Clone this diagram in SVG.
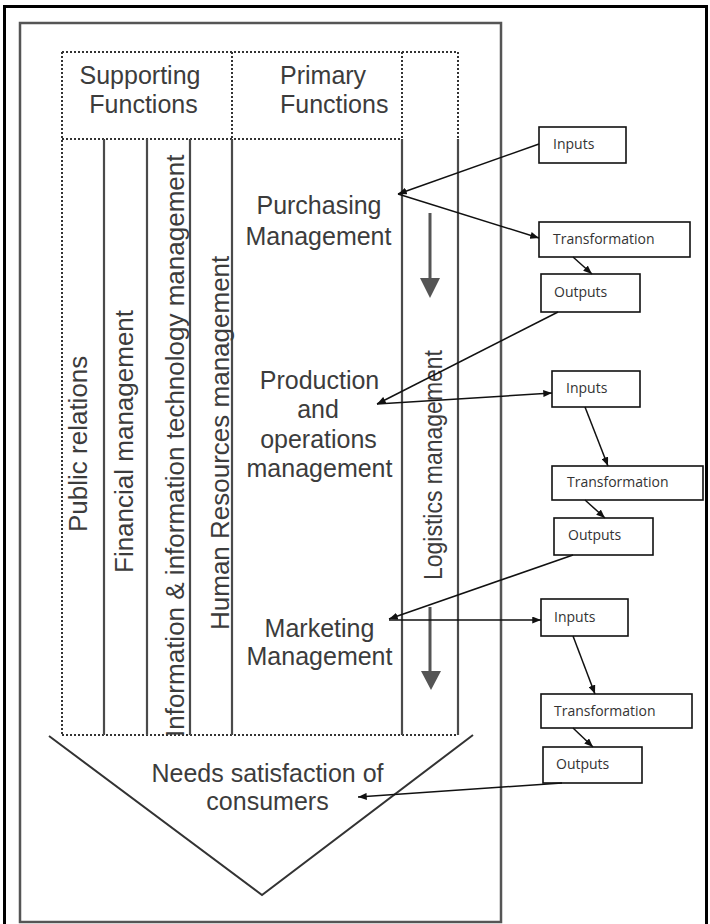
<svg xmlns="http://www.w3.org/2000/svg" width="710" height="924" viewBox="0 0 710 924">
  <style>
    .big { font-family: "Liberation Sans", Arial, sans-serif; font-size: 25px; fill: #3c3c3c; }
    .vert { font-family: "Liberation Sans", Arial, sans-serif; font-size: 26px; fill: #3c3c3c; }
    .small { font-family: "Open Sans", "Liberation Sans", sans-serif; font-size: 14px; fill: #333; }
    .col { stroke: #4a4a4a; stroke-width: 2.2; fill: none; }
    .dot { stroke: #333; stroke-width: 2; stroke-dasharray: 2 2; fill: none; }
    .box { fill: #fff; stroke: #111; stroke-width: 1.6; }
    .link { stroke: #111; stroke-width: 1.5; fill: none; marker-end: url(#head); }
    .down { stroke: #555; stroke-width: 3; fill: none; }
  </style>
  <defs>
    <marker id="head" viewBox="0 0 10 8" refX="10" refY="4" markerWidth="9" markerHeight="7" markerUnits="userSpaceOnUse" orient="auto">
      <path d="M0,0 L10,4 L0,8 Z" fill="#111"/>
    </marker>
  </defs>

  <rect width="710" height="924" fill="#fff"/>

  <!-- outer black frame -->
  <rect x="4.5" y="6.5" width="702" height="930" fill="none" stroke="#000" stroke-width="3"/>

  <!-- grey panel holding the function columns -->
  <rect x="20" y="23" width="481" height="899" fill="none" stroke="#555" stroke-width="2.5"/>

  <!-- header band -->
  <g id="header">
    <path class="dot" d="M62,52 H458 M62,139 H402 M232,52 V139 M402,52 V139 M458,52 V139 M62,52 V735 M62,735 H458"/>
    <text class="big" x="140" y="84" text-anchor="middle">Supporting</text>
    <text class="big" x="143.5" y="113" text-anchor="middle">Functions</text>
    <text class="big" x="280" y="84">Primary</text>
    <text class="big" x="280" y="113">Functions</text>
  </g>

  <!-- solid column dividers -->
  <path class="col" d="M104,139 V735 M147,139 V735 M190,139 V735 M232,139 V735 M402,139 V735 M458,139 V735"/>

  <!-- supporting functions (vertical labels) -->
  <g id="public-relations">
    <text class="vert" x="87" y="532" transform="rotate(-90 87 532)">Public relations</text>
  </g>
  <g id="financial-management">
    <text class="vert" x="133" y="573" transform="rotate(-90 133 573)">Financial management</text>
  </g>
  <g id="it-management">
    <text class="vert" x="184" y="737" transform="rotate(-90 184 737)">Information &amp; information technology management</text>
  </g>
  <g id="hr-management">
    <text class="vert" x="229" y="630" transform="rotate(-90 229 630)">Human Resources management</text>
  </g>
  <g id="logistics-management">
    <text class="vert" x="442" y="580" font-size="24" textLength="230" lengthAdjust="spacingAndGlyphs" transform="rotate(-90 442 580)">Logistics management</text>
    <path class="down" d="M430,213 V280 M430,607 V672"/>
    <path d="M420,278 L440,278 L430,298 Z M421,671 L441,671 L431,690 Z" fill="#555"/>
  </g>

  <!-- primary functions -->
  <g id="purchasing">
    <text class="big" x="319" y="214" text-anchor="middle">Purchasing</text>
    <text class="big" x="318.5" y="245" text-anchor="middle">Management</text>
  </g>
  <g id="production">
    <text class="big" x="319.5" y="389" text-anchor="middle">Production</text>
    <text class="big" x="318" y="418" text-anchor="middle">and</text>
    <text class="big" x="318.5" y="448" text-anchor="middle">operations</text>
    <text class="big" x="319.5" y="477" text-anchor="middle">management</text>
  </g>
  <g id="marketing">
    <text class="big" x="319.5" y="637" text-anchor="middle">Marketing</text>
    <text class="big" x="319.5" y="665" text-anchor="middle">Management</text>
  </g>

  <!-- consumer chevron -->
  <g id="needs">
    <polyline points="49,736 262,895 473,735" fill="none" stroke="#333" stroke-width="2"/>
    <text class="big" x="267.5" y="782" text-anchor="middle">Needs satisfaction of</text>
    <text class="big" x="267.5" y="810" text-anchor="middle">consumers</text>
  </g>

  <!-- input / transformation / output boxes -->
  <g id="inputs-1"><rect class="box" x="539" y="127" width="87" height="36"/><text class="small" x="553" y="149">Inputs</text></g>
  <g id="transformation-1"><rect class="box" x="539" y="222" width="151" height="35"/><text class="small" x="553" y="244">Transformation</text></g>
  <g id="outputs-1"><rect class="box" x="541" y="274" width="99" height="38"/><text class="small" x="554" y="297">Outputs</text></g>

  <g id="inputs-2"><rect class="box" x="552" y="371" width="88" height="36"/><text class="small" x="566" y="393">Inputs</text></g>
  <g id="transformation-2"><rect class="box" x="552" y="466" width="151" height="34"/><text class="small" x="567" y="487">Transformation</text></g>
  <g id="outputs-2"><rect class="box" x="554" y="518" width="99" height="37"/><text class="small" x="568" y="540">Outputs</text></g>

  <g id="inputs-3"><rect class="box" x="541" y="599" width="87" height="37"/><text class="small" x="554" y="622">Inputs</text></g>
  <g id="transformation-3"><rect class="box" x="541" y="694" width="151" height="34"/><text class="small" x="554" y="716">Transformation</text></g>
  <g id="outputs-3"><rect class="box" x="543" y="747" width="99" height="36"/><text class="small" x="556" y="769">Outputs</text></g>

  <!-- connectors -->
  <g id="connectors">
    <line class="link" x1="539" y1="144" x2="398" y2="194"/>
    <line class="link" x1="398" y1="194" x2="539" y2="238"/>
    <line class="link" x1="573" y1="257" x2="592" y2="274"/>
    <line class="link" x1="558" y1="312" x2="377" y2="404"/>
    <line class="link" x1="377" y1="404" x2="552" y2="393"/>
    <line class="link" x1="585" y1="407" x2="608" y2="466"/>
    <line class="link" x1="585" y1="500" x2="605" y2="518"/>
    <line class="link" x1="573" y1="555" x2="389" y2="619"/>
    <line class="link" x1="389" y1="620" x2="541" y2="620"/>
    <line class="link" x1="573" y1="636" x2="595" y2="694"/>
    <line class="link" x1="573" y1="728" x2="593" y2="747"/>
    <line class="link" x1="562" y1="783" x2="358" y2="797"/>
  </g>
</svg>
